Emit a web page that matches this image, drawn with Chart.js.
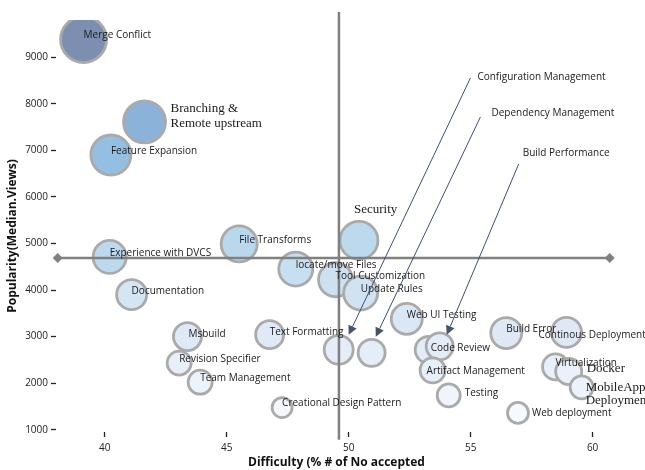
<!DOCTYPE html>
<html>
<head>
<meta charset="utf-8">
<script src="https://cdn.jsdelivr.net/npm/chart.js@4.4.1/dist/chart.umd.min.js"></script>
<style>
  html, body { margin: 0; padding: 0; background: #fff; }
  #wrap { width: 645px; height: 470px; position: relative; }
</style>
</head>
<body>
<div id="wrap"><canvas id="topicchart"></canvas></div>
<script>
// topics: x = difficulty (% of questions with no accepted answer), y = median views, size = bubble radius
let topics = ['Merge Conflict', 'Branching & Remote upstream', 'Feature Expansion', 'File Transforms', 'Security',
    'Experience with DVCS', 'Documentation', 'locate/move Files', 'Tool Customization', 'Update Rules',
    'Web UI Testing', 'Msbuild', 'Text Formatting', 'Configuration Management', 'Dependency Management',
    'Code Review', 'Build Performance', 'Build Error', 'Continous Deployment', 'Revision Specifier',
    'Artifact Management', 'Virtualization', 'Docker', 'Team Management', 'MobileApp Deployment',
    'Testing', 'Creational Design Pattern', 'Web deployment']
let difficulty = [39.13, 41.63, 40.25, 45.51, 50.42, 40.2, 41.1, 47.83, 49.46, 50.49,
    52.38, 43.39, 46.76, 49.59, 50.94, 53.28, 53.73, 56.46, 58.93, 43.05,
    53.44, 58.48, 59.02, 43.91, 59.55, 54.1, 47.27, 56.94]
let popularity = [9380, 7610, 6900, 4990, 5065, 4710, 3900, 4450, 4220, 3935,
    3380, 3000, 3040, 2715, 2650, 2715, 2790, 3075, 3090, 2430,
    2275, 2350, 2250, 2020, 1910, 1735, 1475, 1360]
let bubbleSize = [23, 21, 20, 18, 19, 16.5, 15, 17, 17, 17,
    15.5, 14, 14, 14.5, 13.5, 13.5, 13.5, 15.5, 15, 12,
    12.5, 13, 13, 12, 11.5, 11.5, 10, 10.5]

let xTicks = [40, 45, 50, 55, 60]
let yTicks = [1000, 2000, 3000, 4000, 5000, 6000, 7000, 8000, 9000]

// crosshair (averages) and its extent
let avgDifficulty = 49.6
let avgPopularity = 4690
let crossX = [38.07, 60.7]
let crossY = [785, 9970]

// arrow callouts
let callouts = ['Configuration Management', 'Dependency Management', 'Build Performance']
let calloutFromX = [54.99, 55.4, 56.97]
let calloutFromY = [8554, 7717, 6708]
let calloutToX = [50.0, 51.11, 54.02]
let calloutToY = [3039, 2996, 3039]

// styles
let fills = ['#7d8fb0', '#8bb3da', '#94bfe2', '#b9d8ee', '#bcd9ee', '#bdd9ee', '#d4e6f4', '#c6dff1', '#cce2f2', '#cfe3f2',
    '#dae7f5', '#dfe9f6', '#e0eaf6', '#e4edf8', '#e4edf8', '#e3ecf7', '#e3ecf7', '#dfe9f6', '#dfe9f6', '#e7eff9',
    '#e7eff9', '#e8f0f9', '#eaf1fa', '#edf3fb', '#edf3fb', '#f0f5fc', '#f4f8fd', '#f6f9fe']

let labelStyle = {
    'Branching & Remote upstream': {dx: 26, dy: -13, serif: true, lines: ['Branching &', 'Remote upstream'], gap: 15},
    'Security': {dx: -5, dy: -31, serif: true},
    'Continous Deployment': {dx: -28, dy: 3},
    'Docker': {dx: 18, dy: -3, serif: true},
    'MobileApp Deployment': {dx: 4, dy: 0, serif: true, lines: ['MobileApp', 'Deployment'], gap: 13.5},
    'Web deployment': {dx: 14, dy: 0},
    'Testing': {dx: 16, dy: -2},
    'Artifact Management': {dx: -6, dy: 1},
    'Msbuild': {dx: 1, dy: -2},
    'Text Formatting': {dx: 0, dy: -3},
    'Code Review': {dx: 2, dy: -2},
    'Configuration Management': {hide: true},
    'Dependency Management': {hide: true},
    'Build Performance': {hide: true}
}
let calloutLabelOff = [[7, -1], [11, -4], [4, -11]]

const SANS = '"Open Sans", "DejaVu Sans", sans-serif'
const SERIF = '"Liberation Serif", "DejaVu Serif", serif'

const textPlugin = {
    id: 'textPlugin',
    afterDatasetsDraw(chart) {
        const ctx = chart.ctx
        const xs = chart.scales.x, ys = chart.scales.y
        ctx.save()
        ctx.textBaseline = 'middle'
        ctx.textAlign = 'left'
        ctx.fillStyle = '#1a1a1a'
        for (let i = 0; i < topics.length; i++) {
            let st = labelStyle[topics[i]] || {}
            if (st.hide) continue
            let px = xs.getPixelForValue(difficulty[i]) + (st.dx != undefined ? st.dx : 0)
            let py = ys.getPixelForValue(popularity[i]) + (st.dy != undefined ? st.dy : -4)
            ctx.font = st.serif ? '13px ' + SERIF : '10px ' + SANS
            let lines = st.lines || [topics[i]]
            lines.forEach((l, k) => ctx.fillText(l, px, py + k * (st.gap || 0)))
        }
        // arrows
        ctx.strokeStyle = '#3e4f73'
        ctx.lineWidth = 1
        for (let i = 0; i < callouts.length; i++) {
            let x1 = xs.getPixelForValue(calloutFromX[i]), y1 = ys.getPixelForValue(calloutFromY[i])
            let x2 = xs.getPixelForValue(calloutToX[i]), y2 = ys.getPixelForValue(calloutToY[i])
            let ang = Math.atan2(y2 - y1, x2 - x1)
            let hl = 9, hw = 4.5
            let bx = x2 - hl * Math.cos(ang), by = y2 - hl * Math.sin(ang)
            ctx.beginPath()
            ctx.moveTo(x1, y1)
            ctx.lineTo(bx, by)
            ctx.stroke()
            ctx.fillStyle = '#44546a'
            ctx.beginPath()
            ctx.moveTo(x2, y2)
            ctx.lineTo(bx + hw * Math.sin(ang), by - hw * Math.cos(ang))
            ctx.lineTo(bx - hw * Math.sin(ang), by + hw * Math.cos(ang))
            ctx.closePath()
            ctx.fill()
            ctx.font = '10px ' + SANS
            ctx.fillStyle = '#1a1a1a'
            ctx.fillText(callouts[i], x1 + calloutLabelOff[i][0], y1 + calloutLabelOff[i][1])
        }
        // y axis title
        ctx.translate(13, 236)
        ctx.rotate(-Math.PI / 2)
        ctx.textAlign = 'center'
        ctx.font = 'bold 12px ' + SANS
        ctx.fillStyle = '#111'
        ctx.fillText('Popularity(Median.Views)', 0, 0)
        ctx.restore()
    }
}

let bubbleData = topics.map((t, i) => ({x: difficulty[i], y: popularity[i], r: bubbleSize[i]}))

new Chart(document.getElementById('topicchart'), {
    type: 'bubble',
    data: {
        datasets: [{
            label: 'topics',
            data: bubbleData,
            backgroundColor: fills,
            borderColor: '#aaaaaa',
            borderWidth: 2.8,
            clip: {top: 0, left: 20, right: 20, bottom: 20},
            order: 1
        }, {
            type: 'line',
            label: 'avg popularity',
            data: [{x: crossX[0], y: avgPopularity}, {x: crossX[1], y: avgPopularity}],
            borderColor: '#808080',
            backgroundColor: '#808080',
            borderWidth: 2.5,
            pointStyle: 'rectRot',
            pointRadius: 5,
            pointBorderWidth: 0,
            clip: false,
            order: 0
        }, {
            type: 'line',
            label: 'avg difficulty',
            data: [{x: avgDifficulty, y: crossY[0]}, {x: avgDifficulty, y: crossY[1]}],
            borderColor: '#808080',
            backgroundColor: '#808080',
            borderWidth: 2.5,
            pointStyle: 'rectRot',
            pointRadius: 5,
            pointBorderWidth: 0,
            clip: false,
            order: 0
        }]
    },
    options: {
        responsive: true,
        maintainAspectRatio: false,
        animation: false,
        layout: {autoPadding: false, padding: {top: 20, right: 28, left: 0, bottom: 0}},
        plugins: {legend: {display: false}, tooltip: {enabled: false}},
        scales: {
            x: {
                type: 'linear',
                min: 38, max: 61,
                afterBuildTicks: (s) => { s.ticks = xTicks.map(v => ({value: v})) },
                afterFit: (s) => { s.height = 38 },
                border: {display: false},
                grid: {drawOnChartArea: false, drawTicks: true, tickLength: 5, tickColor: '#222', tickWidth: 1.3},
                ticks: {padding: 5, color: '#222', font: {family: SANS, size: 10}, maxRotation: 0},
                title: {display: true, text: 'Difficulty (% # of No accepted', color: '#111',
                    font: {family: SANS, size: 12, weight: 'bold'}, padding: 0}
            },
            y: {
                type: 'linear',
                min: 950, max: 9800,
                afterBuildTicks: (s) => { s.ticks = yTicks.map(v => ({value: v})) },
                afterFit: (s) => { s.width = 56 },
                border: {display: false},
                grid: {drawOnChartArea: false, drawTicks: true, tickLength: 5, tickColor: '#222', tickWidth: 1.3},
                ticks: {padding: 3, color: '#222', font: {family: SANS, size: 10}, callback: (v) => String(v)}
            }
        }
    },
    plugins: [textPlugin]
});
</script>
</body>
</html>
